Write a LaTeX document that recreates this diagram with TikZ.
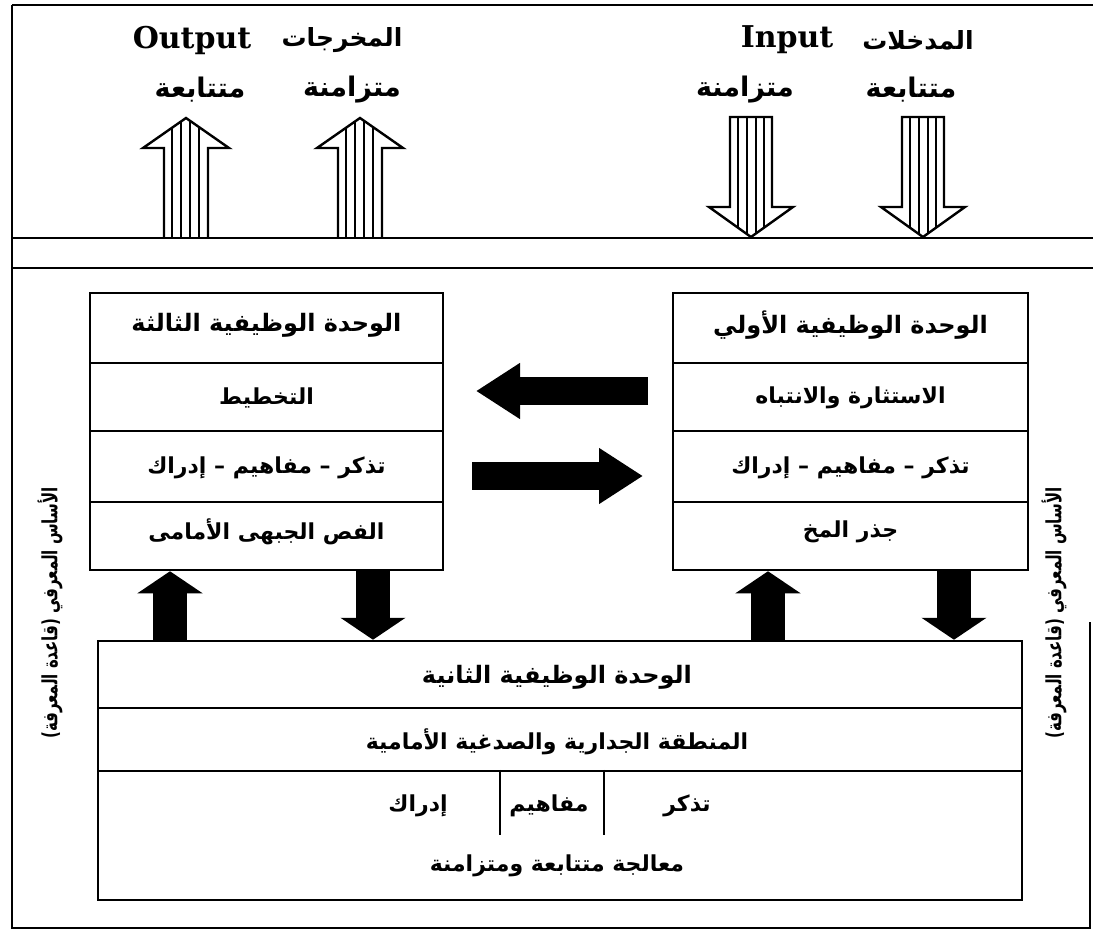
\documentclass[tikz,border=0pt]{standalone}
\usepackage{fontspec}
\setmainfont{DejaVu Serif}
\newfontfamily\arfont[Script=Arabic]{DejaVu Sans}
\TeXXeTstate=1
\usetikzlibrary{arrows.meta}
\newcommand\AR[1]{{\arfont\bfseries\beginR #1\endR}}
\newcommand\StripedUp[1]{%
  \begin{scope}[shift={(#1,0)}]
    \begin{scope}
      \clip (-22,238) -- (-22,148) -- (-43,148) -- (0,118) -- (43,148) -- (22,148) -- (22,238) -- cycle;
      \foreach \d in {-14,-5,4,13} \draw[line width=2pt] (\d,110) -- (\d,240);
    \end{scope}
    \draw[line width=2.4pt, line join=miter] (-22,238) -- (-22,148) -- (-43,148) -- (0,118) -- (43,148) -- (22,148) -- (22,238);
  \end{scope}}
\newcommand\StripedDown[1]{%
  \begin{scope}[shift={(#1,0)}]
    \begin{scope}
      \clip (-21,117) -- (-21,207) -- (-42,207) -- (0,237) -- (42,207) -- (21,207) -- (21,117) -- cycle;
      \foreach \d in {-13,-4,5,13} \draw[line width=2pt] (\d,110) -- (\d,240);
    \end{scope}
    \draw[line width=2.4pt, line join=miter] (-21,117) -- (-21,207) -- (-42,207) -- (0,237) -- (42,207) -- (21,207) -- (21,117) -- cycle;
  \end{scope}}
\begin{document}
\begin{tikzpicture}[x=1pt,y=-1pt,line width=2.5pt,
  cell/.style={draw, inner sep=0pt, line width=2.5pt},
  toplabel/.style={font=\fontsize{25}{30}\selectfont, inner sep=0pt},
  latinlabel/.style={font=\fontsize{30}{34}\selectfont, inner sep=0pt},
  sublabel/.style={font=\fontsize{27}{30}\selectfont, inner sep=0pt},
  rowtext/.style={font=\fontsize{22}{26}\selectfont},
  titletext/.style={font=\fontsize{24}{28}\selectfont},
  sidetext/.style={font=\fontsize{15}{18}\selectfont, rotate=90, yscale=1.4, inner sep=0pt},
  blkv/.style={line width=34pt, -{Triangle[width=64pt,length=22pt]}},
  blkh/.style={line width=28pt, -{Triangle[width=53pt,length=44pt]}}]
\useasboundingbox (0,0) rectangle (1093,934);
% frame
\draw (12,5) -- (1093,5);
\draw (12,5) -- (12,928) -- (1090,928) -- (1090,622);
\draw (12,238) -- (1093,238);
\draw (12,268) -- (1093,268);
% top labels
\node[latinlabel] (outL) at (192,40) {\textbf{Output}};
\node[toplabel] (outA) at (342,40) {\AR{المخرجات}};
\node[latinlabel] (inL) at (787,40) {\textbf{Input}};
\node[toplabel] (inA) at (918,40) {\AR{المدخلات}};
\node[sublabel] (o1) at (200,90) {\AR{متتابعة}};
\node[sublabel] (o2) at (352,90) {\AR{متزامنة}};
\node[sublabel] (i1) at (745,90) {\AR{متزامنة}};
\node[sublabel] (i2) at (911,90) {\AR{متتابعة}};
% striped arrows
\StripedUp{186}
\StripedUp{360}
\StripedDown{751}
\StripedDown{923}
% third unit (left)
\node[cell, minimum width=353pt, minimum height=70pt] (L1) at (266.5,328) {};
\node[cell, minimum width=353pt, minimum height=68pt] (L2) at (266.5,397) {};
\node[cell, minimum width=353pt, minimum height=71pt] (L3) at (266.5,466.5) {};
\node[cell, minimum width=353pt, minimum height=68pt] (L4) at (266.5,536) {};
\node[titletext] at (266.5,325) {\AR{الوحدة الوظيفية الثالثة}};
\node[rowtext] at (266.5,398) {\AR{التخطيط}};
\node[rowtext] at (266.5,468) {\AR{تذكر – مفاهيم – إدراك}};
\node[rowtext] at (266.5,532) {\AR{الفص الجبهى الأمامى}};
% first unit (right)
\node[cell, minimum width=355pt, minimum height=70pt] (R1) at (850.5,328) {};
\node[cell, minimum width=355pt, minimum height=68pt] (R2) at (850.5,397) {};
\node[cell, minimum width=355pt, minimum height=71pt] (R3) at (850.5,466.5) {};
\node[cell, minimum width=355pt, minimum height=68pt] (R4) at (850.5,536) {};
\node[titletext] at (850.5,325) {\AR{الوحدة الوظيفية الأولي}};
\node[rowtext] at (850.5,398) {\AR{الاستثارة والانتباه}};
\node[rowtext] at (850.5,468) {\AR{تذكر – مفاهيم – إدراك}};
\node[rowtext] at (850.5,532) {\AR{جذر المخ}};
% second unit (bottom)
\node[cell, minimum width=924pt, minimum height=67pt] (B1) at (560,674.5) {};
\node[cell, minimum width=924pt, minimum height=63pt] (B2) at (560,739.5) {};
\node[cell, minimum width=924pt, minimum height=129pt] (B3) at (560,835.5) {};
\node[titletext] at (557,677) {\AR{الوحدة الوظيفية الثانية}};
\node[rowtext] at (557,742) {\AR{المنطقة الجدارية والصدغية الأمامية}};
\node[rowtext] (t3a) at (418,806) {\AR{إدراك}};
\node[rowtext] (t3b) at (549,806) {\AR{مفاهيم}};
\node[rowtext] (t3c) at (687,806) {\AR{تذكر}};
\node[rowtext] at (557,866) {\AR{معالجة متتابعة ومتزامنة}};
\draw (B3.north -| 500,0) -- (500,835);
\draw (B3.north -| 604,0) -- (604,835);
% side labels
\node[sidetext] (kL) at (50,613) {\AR{الأساس المعرفي (قاعدة المعرفة)}};
\node[sidetext] (kR) at (1054,613) {\AR{الأساس المعرفي (قاعدة المعرفة)}};
% black vertical arrows
\draw[blkv] (B1.north -| 170,0) -- (L4.south -| 170,0);
\draw[blkv] (L4.south -| 373,0) -- (B1.north -| 373,0);
\draw[blkv] (B1.north -| 768,0) -- (R4.south -| 768,0);
\draw[blkv] (R4.south -| 954,0) -- (B1.north -| 954,0);
% black horizontal arrows
\coordinate (hA1) at (648,391);
\coordinate (hA2) at (476,391);
\coordinate (hB1) at (472,476);
\coordinate (hB2) at (643,476);
\draw[blkh] (hA1) -- (hA2);
\draw[blkh] (hB1) -- (hB2);
\end{tikzpicture}
\end{document}
